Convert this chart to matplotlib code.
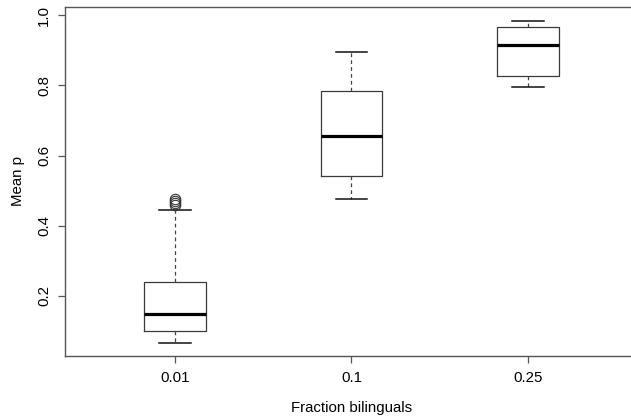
import matplotlib
matplotlib.use("Agg")
import matplotlib.pyplot as plt

categories = ["0.01", "0.1", "0.25"]
whislo = [0.066, 0.476, 0.795]
q1 = [0.100, 0.542, 0.827]
med = [0.149, 0.655, 0.914]
q3 = [0.239, 0.784, 0.967]
whishi = [0.445, 0.896, 0.985]
fliers = [[0.477, 0.470, 0.464, 0.458], [], []]
yticks = [0.2, 0.4, 0.6, 0.8, 1.0]

plt.rcParams['font.family'] = ['Liberation Sans', 'DejaVu Sans']

W, H = 631, 419
fig = plt.figure(figsize=(W / 100, H / 100), dpi=100)
left_px, right_px, top_px, bottom_px = 65, 631, 7, 356
ax = fig.add_axes([left_px / W, 1 - bottom_px / H,
                   (right_px - left_px) / W, (bottom_px - top_px) / H])

stats = []
for i, c in enumerate(categories):
    stats.append(dict(label=c, whislo=whislo[i], q1=q1[i], med=med[i],
                      q3=q3[i], whishi=whishi[i], fliers=fliers[i]))

edge = '#3a3a3a'
ax.bxp(stats, positions=[1, 2, 3], widths=0.351, showfliers=True,
       boxprops=dict(color=edge, linewidth=0.9),
       whiskerprops=dict(color='#444444', linewidth=0.9, linestyle=(0, (3, 2.5))),
       capprops=dict(color='#111111', linewidth=1.1),
       medianprops=dict(color='black', linewidth=2.3, solid_capstyle='butt'),
       flierprops=dict(marker='o', markerfacecolor='none', markeredgecolor='#333333',
                       markersize=7.5, markeredgewidth=0.8, linestyle='none'),
       capwidths=0.176)

ax.set_xlim(0.3768, 3.5836)
ax.set_ylim(0.0280, 1.0237)

for s in ['left', 'bottom', 'top']:
    ax.spines[s].set_color('#555555')
    ax.spines[s].set_linewidth(1.0)
ax.spines['right'].set_visible(False)

fs = 10.8
ax.set_yticks(yticks)
ax.set_yticklabels([f"{v:.1f}" for v in yticks], rotation=90, va='center')
ax.set_xticks([1, 2, 3])
ax.set_xticklabels(categories)
ax.tick_params(axis='both', length=5, width=0.9, color='#555555',
               labelsize=fs, pad=5)
ax.tick_params(axis='x', pad=6)

fig.text(352 / W, 1 - 408 / H, "Fraction bilinguals", ha='center', va='center', fontsize=fs)
fig.text(18 / W, 1 - 181.5 / H, "Mean p", ha='center', va='center', rotation=90, fontsize=fs)

fig.savefig("out.png", dpi=100)
